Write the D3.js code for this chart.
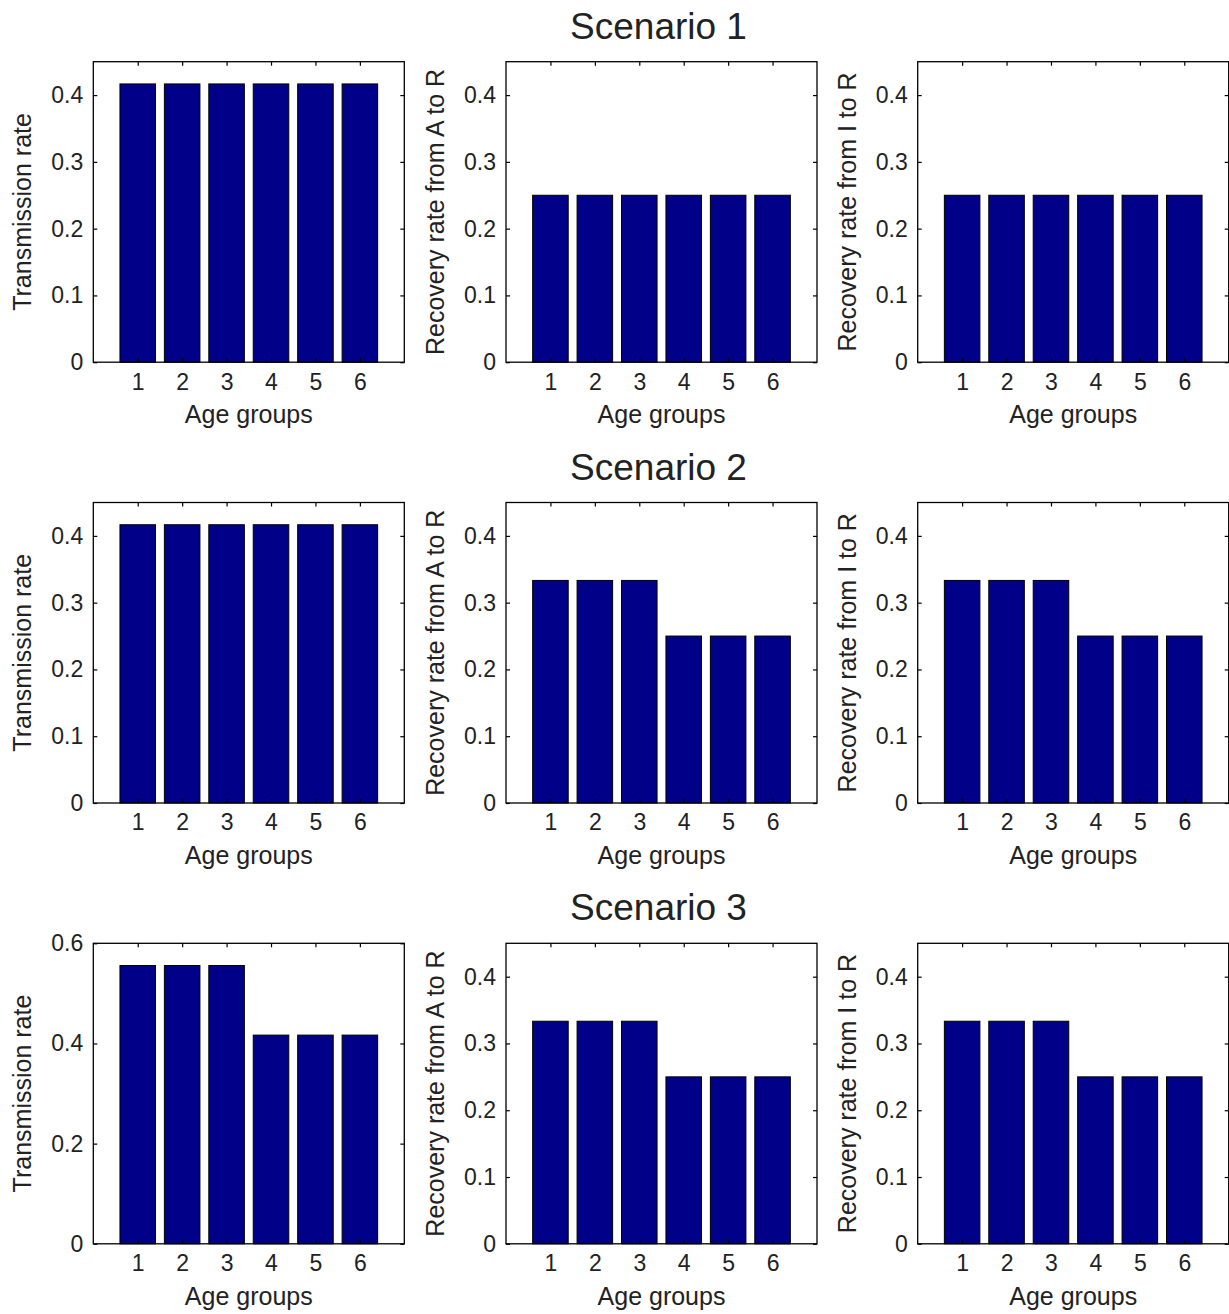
<!DOCTYPE html>
<html>
<head>
<meta charset="utf-8">
<script src="https://cdn.jsdelivr.net/npm/d3@7"></script>
<style>
  body { margin: 0; background: #fff; }
  svg text { font-family: "Liberation Sans", Arial, Helvetica, sans-serif; fill: #222; }
</style>
</head>
<body>
<div id="chart"></div>
<script>
// values
const ageGroups = [1, 2, 3, 4, 5, 6];
const scenarios = ['Scenario 1', 'Scenario 2', 'Scenario 3'];
const yLabels = ['Transmission rate', 'Recovery rate from A to R', 'Recovery rate from I to R'];

const s1Transmission = [0.4167, 0.4167, 0.4167, 0.4167, 0.4167, 0.4167];
const s1RecoveryA = [0.25, 0.25, 0.25, 0.25, 0.25, 0.25];
const s1RecoveryI = [0.25, 0.25, 0.25, 0.25, 0.25, 0.25];

const s2Transmission = [0.4167, 0.4167, 0.4167, 0.4167, 0.4167, 0.4167];
const s2RecoveryA = [0.3333, 0.3333, 0.3333, 0.25, 0.25, 0.25];
const s2RecoveryI = [0.3333, 0.3333, 0.3333, 0.25, 0.25, 0.25];

const s3Transmission = [0.5556, 0.5556, 0.5556, 0.4167, 0.4167, 0.4167];
const s3RecoveryA = [0.3333, 0.3333, 0.3333, 0.25, 0.25, 0.25];
const s3RecoveryI = [0.3333, 0.3333, 0.3333, 0.25, 0.25, 0.25];

const rateTicks = [0, 0.1, 0.2, 0.3, 0.4];
const wideTicks = [0, 0.2, 0.4, 0.6];

const panels = [
  [s1Transmission, s1RecoveryA, s1RecoveryI],
  [s2Transmission, s2RecoveryA, s2RecoveryI],
  [s3Transmission, s3RecoveryA, s3RecoveryI]
];

const width = 1229, height = 1314;
const panelW = 311, panelH = 300.5;
const colLeft = [93.3, 506, 917.7];
const rowTop = 61.7, rowStep = 440.8;
const barColor = '#000088';

const svg = d3.select('#chart').append('svg')
  .attr('width', width)
  .attr('height', height);

const fmt = d => d === 0 ? '0' : d.toFixed(1);

panels.forEach((row, r) => {
  const top = rowTop + r * rowStep;

  // scenario title above the middle panel
  svg.append('text')
    .attr('x', colLeft[1] + panelW / 2 - 3)
    .attr('y', top - 23)
    .attr('text-anchor', 'middle')
    .style('font-size', '37px')
    .text(scenarios[r]);

  row.forEach((values, c) => {
    const wide = r === 2 && c === 0;
    const g = svg.append('g')
      .attr('transform', `translate(${colLeft[c]}, ${top})`);

    const x = d3.scaleLinear().domain([0, 7]).range([0, panelW]);
    const y = d3.scaleLinear().domain([0, wide ? 0.6 : 0.45]).range([panelH, 0]);
    const ticks = wide ? wideTicks : rateTicks;

    // bars
    g.selectAll('rect.bar')
      .data(values)
      .join('rect')
      .attr('class', 'bar')
      .attr('x', (d, i) => x(ageGroups[i] - 0.4))
      .attr('width', x(0.8) - x(0))
      .attr('y', d => y(d))
      .attr('height', d => y(0) - y(d))
      .attr('fill', barColor)
      .attr('stroke', '#000')
      .attr('stroke-width', 1);

    // axes with inward ticks, matlab style
    const left = g.append('g')
      .call(d3.axisLeft(y).tickValues(ticks).tickFormat(fmt).tickSize(-4).tickSizeOuter(0).tickPadding(10));
    const bottom = g.append('g')
      .attr('transform', `translate(0, ${panelH})`)
      .call(d3.axisBottom(x).tickValues(ageGroups).tickFormat(d3.format('d')).tickSize(-4).tickSizeOuter(0).tickPadding(11));
    g.append('g')
      .attr('transform', `translate(${panelW}, 0)`)
      .call(d3.axisRight(y).tickValues(ticks).tickFormat('').tickSize(-4).tickSizeOuter(0));
    g.append('g')
      .call(d3.axisTop(x).tickValues(ageGroups).tickFormat('').tickSize(-4).tickSizeOuter(0));

    g.selectAll('.domain').remove();
    g.selectAll('.tick line').attr('stroke', '#000').attr('stroke-width', 1.2);
    left.selectAll('text').style('font-size', '23px').attr('fill', '#222');
    bottom.selectAll('text').style('font-size', '23px').attr('fill', '#222');

    // box
    g.append('rect')
      .attr('width', panelW)
      .attr('height', panelH)
      .attr('fill', 'none')
      .attr('stroke', '#000')
      .attr('stroke-width', 1.3);

    // axis titles
    g.append('text')
      .attr('x', panelW / 2)
      .attr('y', panelH + 61)
      .attr('text-anchor', 'middle')
      .style('font-size', '25px')
      .text('Age groups');

    g.append('text')
      .attr('transform', `translate(-62, ${panelH / 2}) rotate(-90)`)
      .attr('text-anchor', 'middle')
      .style('font-size', '25px')
      .text(yLabels[c]);
  });
});
</script>
</body>
</html>
